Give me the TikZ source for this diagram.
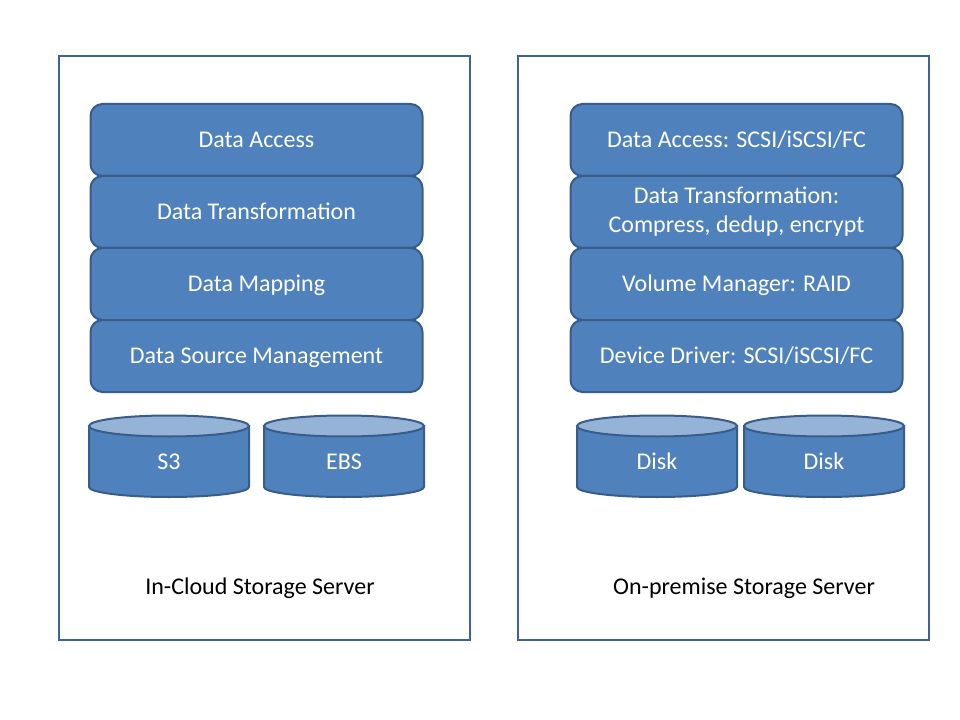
\documentclass[tikz,border=0pt]{standalone}
\usepackage{fontspec}
\setmainfont{Carlito}
\definecolor{boxfill}{HTML}{4F81BD}
\definecolor{boxline}{HTML}{385D8A}
\definecolor{topfill}{HTML}{95B3D7}
\definecolor{frameline}{HTML}{3F6394}
\begin{document}
\begin{tikzpicture}[x=0.75pt,y=-0.75pt,
  framebox/.style={draw=frameline,line width=1.8pt},
  layer/.style={draw=boxline,fill=boxfill,line width=1.5pt,rounded corners=9pt,
    minimum width=249pt,minimum height=54pt,inner sep=0pt,text=white,
    font=\fontsize{18}{21.75}\selectfont,align=center},
  oneline/.style={text height=15.5pt,text depth=4pt},
  cyltext/.style={text=white,font=\fontsize{18}{21.75}\selectfont,inner sep=0pt,oneline},
  caption/.style={text=black,font=\fontsize{18}{21.75}\selectfont,inner sep=0pt,oneline},
  cylbody/.style={draw=boxline,fill=boxfill,line width=1.5pt},
  cyltop/.style={draw=boxline,fill=topfill,line width=1.5pt}]
\useasboundingbox (0,0) rectangle (960,720);
\fill[white] (0,0) rectangle (960,720);
% frames
\draw[framebox] (59,56) rectangle (470,640);
\draw[framebox] (518,56) rectangle (929,640);
% left stack
\node[layer,oneline] (la) at (256.5,140) {Data Access};
\node[layer,oneline] (lt) at (256.5,212) {Data Transformation};
\node[layer,oneline] (lm) at (256.5,284) {Data Mapping};
\node[layer,oneline] (ls) at (256.5,356) {Data Source Management};
% right stack
\node[layer,oneline] (ra) at (736.5,140) {Data Access: SCSI/iSCSI/FC};
\node[layer] (rt) at (736.5,212) {Data Transformation:\\Compress, dedup, encrypt};
\node[layer,oneline] (rv) at (736.5,284) {Volume Manager: RAID};
\node[layer,oneline] (rd) at (736.5,356) {Device Driver: SCSI/iSCSI/FC};
% cylinders
\foreach \cx/\nm/\txt in {169/s3/S3, 344/ebs/EBS, 657/d1/Disk, 824/d2/Disk}{
  \draw[cylbody] (\cx-80,426) -- (\cx-80,487) arc[start angle=180,end angle=0,x radius=80,y radius=10] -- (\cx+80,426) -- cycle;
  \draw[cyltop] (\cx,426) ellipse[x radius=80,y radius=10.5];
  \node[cyltext] (\nm) at (\cx,462) {\txt};
}
% captions
\node[caption] (lc) at (260,587) {In-Cloud Storage Server};
\node[caption] (rc) at (744,587) {On-premise Storage Server};
\end{tikzpicture}
\end{document}
